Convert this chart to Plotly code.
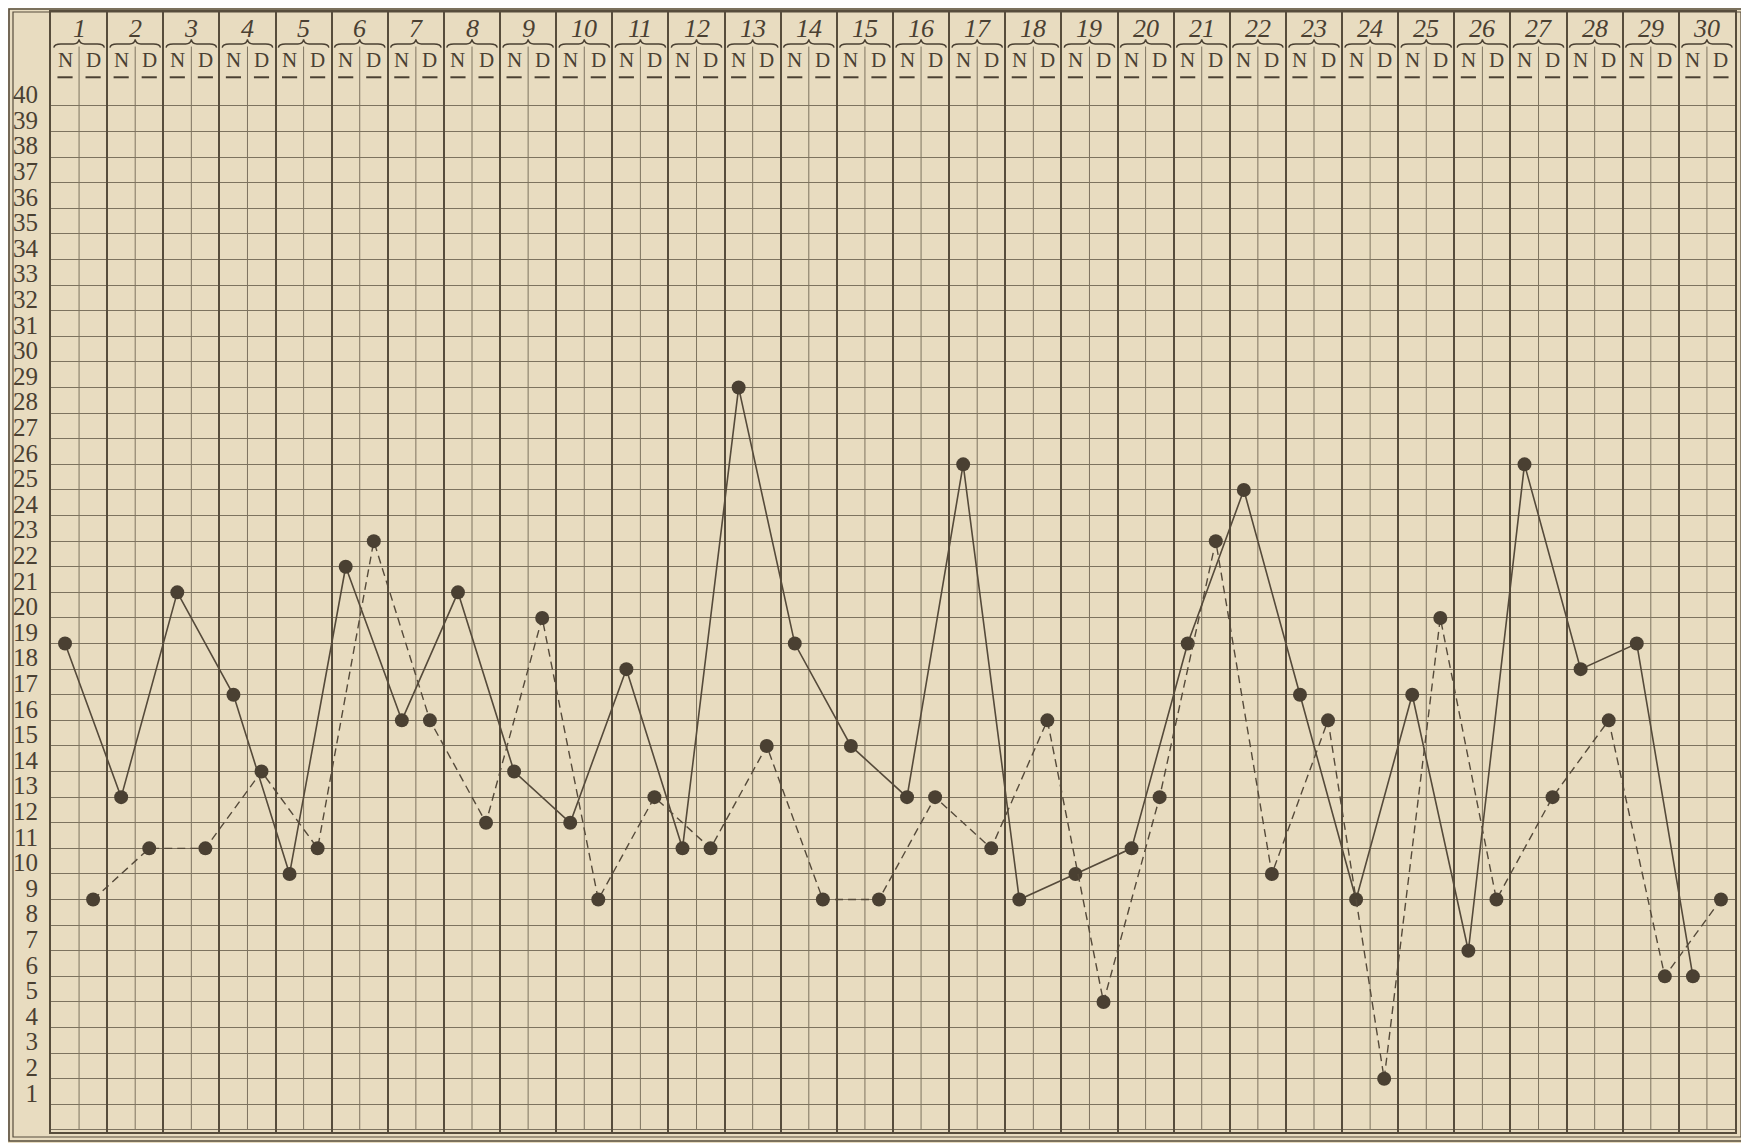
import plotly.graph_objects as go

# ---- data ----
days = list(range(1, 31))
sub_labels = ["N", "D"]
night_values = [19, 13, 21, 17, 10, 22, 16, 21, 14, 12, 18, 11, 29, 19, 15,
                13, 26, 9, 10, 11, 19, 25, 17, 9, 17, 7, 26, 18, 19, 6]
day_values = [9, 11, 11, 14, 11, 23, 16, 12, 20, 9, 13, 11, 15, 9, 9,
              13, 11, 16, 5, 13, 23, 10, 16, 2, 20, 9, 13, 16, 6, 9]
y_tick_values = list(range(1, 41))
y_tick_labels = [str(v) for v in y_tick_values]

# ---- styling ----
OFF = 8  # page body margin of the html page
W, H = 1749 - OFF, 1143 - OFF
ML, MR, MT, MB = 51 - OFF, 14, 12 - OFF, 11
BG = "#e8dcc0"
INK = "#4a4032"
GRID = "#7d735f"
HEAVY = "#574d3c"
Y_TOP = 43.67
Y_BOT = -0.08

n_days = len(days)
x_night = [2 * (d - 1) + 0.5 for d in days]
x_day = [2 * (d - 1) + 1.5 for d in days]

fig = go.Figure()

fig.add_trace(go.Scatter(
    x=x_night, y=night_values, mode="lines+markers", name="N",
    line=dict(color="#554a3a", width=1.6),
    marker=dict(size=14, color=INK, line=dict(width=0)),
    showlegend=False, cliponaxis=False))

fig.add_trace(go.Scatter(
    x=x_day, y=day_values, mode="lines+markers", name="D",
    line=dict(color="#554a3a", width=1.4, dash="8px,5px"),
    marker=dict(size=14, color=INK, line=dict(width=0)),
    showlegend=False, cliponaxis=False))

shapes = []
annotations = []
hdr_num_y = 43.02
hdr_brace_y = 42.42
hdr_letter_y = 41.78
hdr_line_y = 41.12

for i, d in enumerate(days):
    x0 = 2 * i
    xm = x0 + 1
    # thin N|D divider (from brace downward)
    shapes.append(dict(type="line", xref="x", yref="y", x0=xm, x1=xm,
                       y0=0, y1=hdr_brace_y - 0.1, layer="below",
                       line=dict(color=GRID, width=1)))
    # brace under day number
    a, b = x0 + 0.1, x0 + 1.9
    yb = hdr_brace_y
    path = (f"M {a},{yb-0.14} Q {a+0.02},{yb} {a+0.25},{yb} L {xm-0.2},{yb} "
            f"Q {xm-0.03},{yb} {xm},{yb+0.18} Q {xm+0.03},{yb} {xm+0.2},{yb} "
            f"L {b-0.25},{yb} Q {b-0.02},{yb} {b},{yb-0.14}")
    shapes.append(dict(type="path", xref="x", yref="y", path=path,
                       line=dict(color=INK, width=1.4), layer="above"))
    # day number
    annotations.append(dict(x=xm, y=hdr_num_y, xref="x", yref="y",
                            text=f"<i>{d}</i>", showarrow=False,
                            font=dict(family="Liberation Serif", size=26, color=INK)))
    for j, lab in enumerate(sub_labels):
        xc = x0 + j + 0.5
        annotations.append(dict(x=xc, y=hdr_letter_y, xref="x", yref="y",
                                text=lab, showarrow=False,
                                font=dict(family="Liberation Serif", size=21, color=INK)))
        shapes.append(dict(type="line", xref="x", yref="y",
                           x0=xc - 0.27, x1=xc + 0.27, y0=hdr_line_y, y1=hdr_line_y,
                           line=dict(color=INK, width=2), layer="above"))

# outer double frame (page pixel positions converted to paper coords)
pw, ph = W - ML - MR, H - MT - MB


def px(xp):
    return (xp - OFF - ML) / pw


def py(yp):
    return (H - MB - (yp - OFF)) / ph


for (l, t, r, bt, w) in [(9, 9, 1746, 1141, 1.6), (13, 12, 1741, 1137, 1.2)]:
    shapes.append(dict(type="rect", xref="paper", yref="paper",
                       x0=px(l), x1=px(r), y0=py(bt), y1=py(t),
                       line=dict(color=HEAVY, width=w), layer="above"))

fig.update_layout(
    width=W, height=H,
    margin=dict(l=ML, r=MR, t=MT, b=MB, autoexpand=False),
    paper_bgcolor=BG, plot_bgcolor=BG,
    shapes=shapes, annotations=annotations,
    showlegend=False,
)

fig.update_xaxes(
    range=[0, 2 * n_days], showticklabels=False, ticks="",
    tickmode="array", tickvals=[2 * i for i in range(n_days + 1)],
    showgrid=True, gridcolor=HEAVY, gridwidth=1.5, zeroline=False,
    showline=True, linecolor=HEAVY, linewidth=2, mirror=True,
)

fig.update_yaxes(
    range=[Y_BOT, Y_TOP], ticks="",
    tickmode="array", tickvals=[v + 0.45 for v in y_tick_values],
    ticktext=y_tick_labels, ticklabelstandoff=6,
    tickfont=dict(family="Liberation Serif", size=25, color=INK),
    showgrid=False, zeroline=False,
    minor=dict(tickmode="array", tickvals=[0] + y_tick_values, showgrid=True,
               gridcolor=GRID, gridwidth=1.2, ticks=""),
    showline=True, linecolor=HEAVY, linewidth=2, mirror=True,
)

fig.write_html("out.html")
